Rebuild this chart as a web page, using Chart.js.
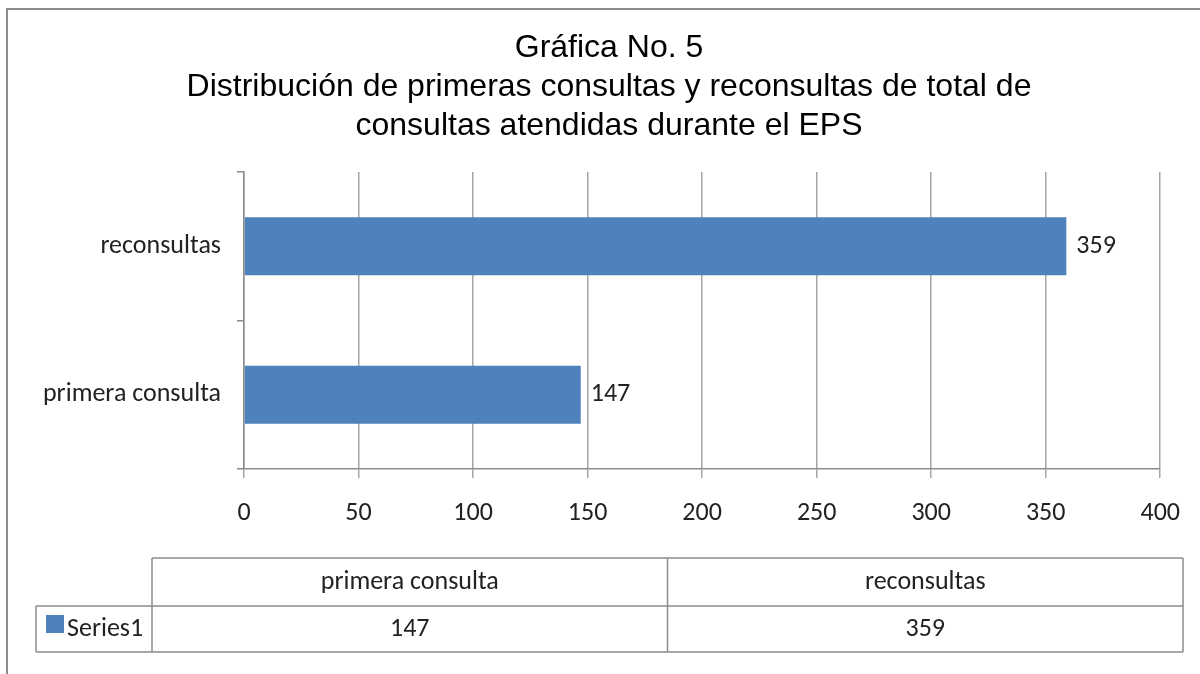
<!DOCTYPE html>
<html>
<head>
<meta charset="utf-8">
<script src="https://cdn.jsdelivr.net/npm/chart.js@4/dist/chart.umd.min.js"></script>
<style>
  html, body { margin: 0; padding: 0; background: #fff; }
  #wrap { width: 1200px; height: 674px; }
</style>
</head>
<body>
<div id="wrap"><canvas id="c" width="1200" height="674"></canvas></div>
<script>
// chart data
var categories = ['primera consulta', 'reconsultas'];
var seriesName = 'Series1';
var values = [147, 359];
var xTicks = [0, 50, 100, 150, 200, 250, 300, 350, 400];
var titleLines = [
  'Gráfica No. 5',
  'Distribución de primeras consultas y reconsultas de total de',
  'consultas atendidas durante el EPS'
];

var barColor = '#4F81BD';
var lineColor = '#8c8c8c';
var textFont = 'Carlito, Lato, sans-serif';
var textSize = 26;

// outer frame + data table drawn around the chart
var frameAndTable = {
  id: 'frameAndTable',
  beforeDraw: function (chart) {
    var ctx = chart.ctx;
    ctx.save();
    ctx.fillStyle = '#fff';
    ctx.fillRect(0, 0, chart.width, chart.height);
    ctx.strokeStyle = lineColor;
    ctx.lineWidth = 2;
    ctx.strokeRect(7, 9, 1210, 700);
    ctx.restore();
  },
  afterDatasetsDraw: function (chart) {
    // value labels at bar ends
    var ctx = chart.ctx;
    var meta = chart.getDatasetMeta(0);
    ctx.save();
    ctx.font = textSize + 'px ' + textFont;
    ctx.fillStyle = '#222';
    ctx.textBaseline = 'middle';
    ctx.textAlign = 'left';
    meta.data.forEach(function (bar, i) {
      ctx.fillText(String(values[i]), bar.x + 10, bar.y);
    });
    ctx.restore();
  },
  afterDraw: function (chart) {
    var ctx = chart.ctx;
    var top = 558, mid = 606, bot = 652;
    var x0 = 36, x1 = 152, x3 = 1183;
    var colW = (x3 - x1) / categories.length;
    ctx.save();
    ctx.strokeStyle = lineColor;
    ctx.lineWidth = 1.5;
    ctx.beginPath();
    ctx.moveTo(x1, top); ctx.lineTo(x3, top);
    ctx.moveTo(x0, mid); ctx.lineTo(x3, mid);
    ctx.moveTo(x0, bot); ctx.lineTo(x3, bot);
    ctx.moveTo(x0, mid); ctx.lineTo(x0, bot);
    ctx.moveTo(x1, top); ctx.lineTo(x1, bot);
    for (var i = 1; i <= categories.length; i++) {
      var xx = x1 + colW * i;
      ctx.moveTo(xx, top); ctx.lineTo(xx, bot);
    }
    ctx.stroke();

    ctx.font = textSize + 'px ' + textFont;
    ctx.fillStyle = '#222';
    ctx.textBaseline = 'middle';
    ctx.textAlign = 'center';
    categories.forEach(function (cat, i) {
      var cx = x1 + colW * (i + 0.5);
      ctx.fillText(cat, cx, (top + mid) / 2);
      ctx.fillText(String(values[i]), cx, (mid + bot) / 2);
    });
    // legend key
    ctx.fillStyle = barColor;
    ctx.fillRect(46, 615, 18, 18);
    ctx.fillStyle = '#222';
    ctx.textAlign = 'left';
    ctx.fillText(seriesName, 67, (mid + bot) / 2);
    ctx.restore();
  }
};

new Chart(document.getElementById('c'), {
  type: 'bar',
  data: {
    labels: categories,
    datasets: [{
      label: seriesName,
      data: values,
      backgroundColor: barColor,
      borderWidth: 0,
      barPercentage: 0.39,
      categoryPercentage: 1
    }]
  },
  options: {
    indexAxis: 'y',
    responsive: false,
    animation: false,
    // asymmetric padding so the title centre sits where the original has it
    layout: { padding: { left: 30, right: 12, top: 0, bottom: 0 } },
    plugins: {
      legend: { display: false },
      tooltip: { enabled: false },
      title: {
        display: true,
        text: titleLines,
        color: '#000',
        font: { family: 'Liberation Sans, Arial, sans-serif', size: 32, weight: 'normal', lineHeight: 1.23 },
        padding: { top: 28, bottom: 26 }
      }
    },
    scales: {
      x: {
        min: xTicks[0],
        max: xTicks[xTicks.length - 1],
        afterFit: function (scale) { scale.height = 674 - 469; },
        ticks: {
          stepSize: xTicks[1] - xTicks[0],
          color: '#222',
          padding: 20,
          font: { family: textFont, size: textSize }
        },
        grid: { color: '#a6a6a6', lineWidth: 1.5, tickLength: 9 },
        border: { color: lineColor, width: 1.5 }
      },
      y: {
        reverse: true,
        afterFit: function (scale) { scale.width = 244 - 30; },
        ticks: {
          color: '#222',
          padding: 16,
          font: { family: textFont, size: textSize }
        },
        grid: { drawOnChartArea: false, color: lineColor, lineWidth: 1.5, tickLength: 7 },
        border: { color: lineColor, width: 1.5 }
      },
      // empty spacer on the right, keeps the plot's right edge at 400
      yRight: {
        type: 'category',
        position: 'right',
        afterFit: function (scale) { scale.width = 1200 - 12 - 1162; },
        ticks: { display: false },
        grid: { display: false },
        border: { display: false }
      }
    }
  },
  plugins: [frameAndTable]
});
</script>
</body>
</html>
